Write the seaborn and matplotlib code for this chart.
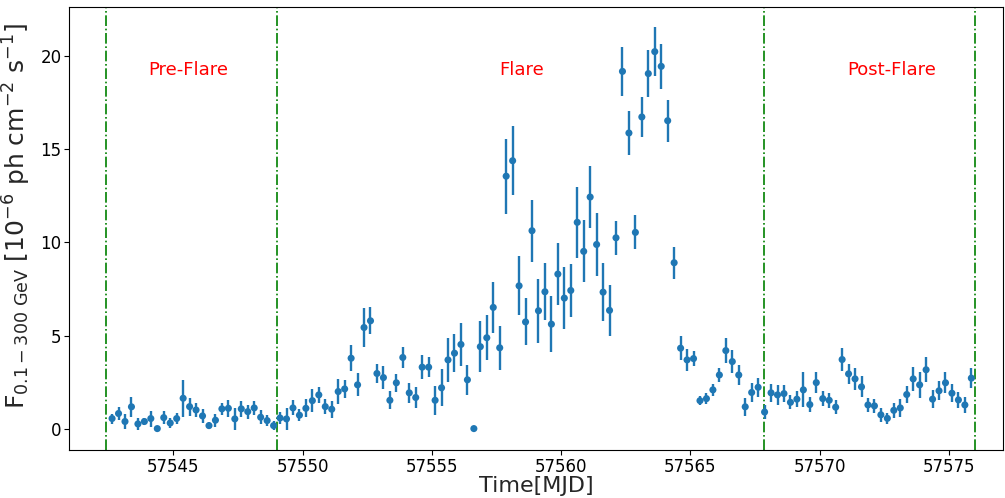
import matplotlib
matplotlib.use("Agg")
import matplotlib.pyplot as plt
import seaborn as sns
import pandas as pd

# 6-hour bin centres (MJD)
time_mjd = [
    57542.625, 57542.875,
    57543.125, 57543.375, 57543.625, 57543.875,
    57544.125, 57544.375, 57544.625, 57544.875,
    57545.125, 57545.375, 57545.625, 57545.875,
    57546.125, 57546.375, 57546.625, 57546.875,
    57547.125, 57547.375, 57547.625, 57547.875,
    57548.125, 57548.375, 57548.625, 57548.875,
    57549.125, 57549.375, 57549.625, 57549.875,
    57550.125, 57550.375, 57550.625, 57550.875,
    57551.125, 57551.375, 57551.625, 57551.875,
    57552.125, 57552.375, 57552.625, 57552.875,
    57553.125, 57553.375, 57553.625, 57553.875,
    57554.125, 57554.375, 57554.625, 57554.875,
    57555.125, 57555.375, 57555.625, 57555.875,
    57556.125, 57556.375, 57556.625, 57556.875,
    57557.125, 57557.375, 57557.625, 57557.875,
    57558.125, 57558.375, 57558.625, 57558.875,
    57559.125, 57559.375, 57559.625, 57559.875,
    57560.125, 57560.375, 57560.625, 57560.875,
    57561.125, 57561.375, 57561.625, 57561.875,
    57562.125, 57562.375, 57562.625, 57562.875,
    57563.125, 57563.375, 57563.625, 57563.875,
    57564.125, 57564.375, 57564.625, 57564.875,
    57565.125, 57565.375, 57565.625, 57565.875,
    57566.125, 57566.375, 57566.625, 57566.875,
    57567.125, 57567.375, 57567.625, 57567.875,
    57568.125, 57568.375, 57568.625, 57568.875,
    57569.125, 57569.375, 57569.625, 57569.875,
    57570.125, 57570.375, 57570.625, 57570.875,
    57571.125, 57571.375, 57571.625, 57571.875,
    57572.125, 57572.375, 57572.625, 57572.875,
    57573.125, 57573.375, 57573.625, 57573.875,
    57574.125, 57574.375, 57574.625, 57574.875,
    57575.125, 57575.375, 57575.625, 57575.875,
]

flux = [
    0.54, 0.81, 0.38, 1.17, 0.25, 0.38, 0.54, 0.00, 0.59, 0.30,
    0.54, 1.63, 1.18, 1.00, 0.68, 0.16, 0.45, 1.06, 1.09, 0.52,
    1.06, 0.91, 1.11, 0.61, 0.43, 0.16, 0.57, 0.52,
    1.11, 0.72, 1.09, 1.50, 1.81, 1.18, 1.04, 1.99, 2.13, 3.78,
    2.35, 5.43, 5.79, 2.96, 2.74, 1.52, 2.46, 3.82, 1.92, 1.67,
    3.30, 3.30, 1.52, 2.19, 3.69, 4.05, 4.52, 2.62, 0.00, 4.40,
    4.88,
    6.51, 4.34, 13.56, 14.39, 7.67, 5.73, 10.63, 6.33, 7.35, 5.61,
    8.30, 7.01, 7.42, 11.08, 9.52, 12.44, 9.89, 7.33, 6.35, 10.25,
    19.19, 15.88, 10.54, 16.74,
    19.07, 20.25, 19.46, 16.54, 8.91, 4.32, 3.69, 3.76, 1.50, 1.61,
    2.08, 2.88, 4.19, 3.60, 2.88, 1.17, 1.94, 2.22, 0.89, 1.92,
    1.81,
    1.88, 1.41, 1.58, 2.08, 1.29, 2.47, 1.61, 1.52, 1.15, 3.71,
    2.94, 2.67, 2.24, 1.27, 1.22, 0.74, 0.55, 0.98, 1.11, 1.83,
    2.67, 2.35, 3.16, 1.58, 2.03, 2.46, 1.90, 1.54, 1.27, 2.71,
]

flux_err = [
    0.27, 0.33, 0.38, 0.54, 0.30, 0.20, 0.43, 0.00, 0.36, 0.28,
    0.30, 0.99, 0.49, 0.36, 0.38, 0.17, 0.35, 0.34, 0.46, 0.60,
    0.44, 0.38, 0.39, 0.39, 0.30, 0.25, 0.31, 0.59,
    0.40, 0.31, 0.49, 0.61, 0.45, 0.39, 0.45, 0.67, 0.47, 0.69,
    0.61, 1.04, 0.72, 0.53, 0.60, 0.48, 0.49, 0.55, 0.52, 0.54,
    0.64, 0.52, 0.77, 0.99, 1.19, 1.01, 1.14, 0.79, 0.00, 1.36,
    1.21,
    1.39, 1.18, 2.02, 1.84, 1.59, 1.26, 1.67, 1.71, 1.53, 1.51,
    1.66, 1.65, 1.42, 1.91, 1.67, 1.69, 1.69, 1.56, 1.37, 0.91,
    1.32, 1.17, 0.91, 1.09,
    1.28, 1.31, 1.20, 1.12, 0.85, 0.66, 0.58, 0.39, 0.25, 0.29,
    0.32, 0.37, 0.66, 0.61, 0.56, 0.50, 0.53, 0.50, 0.38, 0.50,
    0.54,
    0.47, 0.38, 0.42, 0.94, 0.41, 0.57, 0.41, 0.41, 0.36, 0.63,
    0.54, 0.58, 0.56, 0.39, 0.36, 0.36, 0.30, 0.42, 0.49, 0.48,
    0.66, 0.68, 0.66, 0.50, 0.51, 0.56, 0.47, 0.44, 0.45, 0.53,
]

phase_bounds = [57542.38, 57549.0, 57567.87, 57576.0]
phase_labels = ["Pre-Flare", "Flare", "Post-Flare"]
phase_label_x = [57545.57, 57558.46, 57572.78]
phase_label_y = 19.25

df = pd.DataFrame({"time": time_mjd, "flux": flux, "err": flux_err})

sns.set_style("ticks")
plt.rcParams["font.family"] = ["DejaVu Sans"]
plt.rcParams["mathtext.fontset"] = "dejavusans"

fig = plt.figure(figsize=(10.05, 4.98), dpi=100)
ax = fig.add_axes([0.0687, 0.0964, 0.9293, 0.8896])

color = "#1f77b4"
ax.errorbar(df["time"], df["flux"], yerr=df["err"], fmt="none",
            ecolor=color, elinewidth=1.7, capsize=0, zorder=2)
sns.scatterplot(data=df, x="time", y="flux", ax=ax, color=color,
                s=26, edgecolor="none", linewidth=0, zorder=3, legend=False)

for xb in phase_bounds:
    ax.axvline(xb, color="green", linestyle="-.", linewidth=1.2, zorder=1)

for lbl, xl in zip(phase_labels, phase_label_x):
    ax.text(xl, phase_label_y, lbl, color="red", fontsize=13,
            ha="center", va="center")

ax.set_xlim(57540.96, 57577.1)
ax.set_ylim(-1.15, 22.65)
ax.set_xticks([57545, 57550, 57555, 57560, 57565, 57570, 57575])
ax.set_yticks([0, 5, 10, 15, 20])
ax.tick_params(axis="both", labelsize=12, direction="out", length=3.5,
               width=0.8, colors="black", pad=2)
for sp in ax.spines.values():
    sp.set_visible(True)
    sp.set_color("black")
    sp.set_linewidth(0.8)

ax.set_xlabel("Time[MJD]", fontsize=16, labelpad=0)
ax.set_ylabel(r"F$_{0.1-300\ \mathrm{GeV}}$ [10$^{-6}$ ph cm$^{-2}$ s$^{-1}$]",
              fontsize=18)
ax.yaxis.set_label_coords(-0.039, 0.529)

fig.savefig("out.png", dpi=100)
